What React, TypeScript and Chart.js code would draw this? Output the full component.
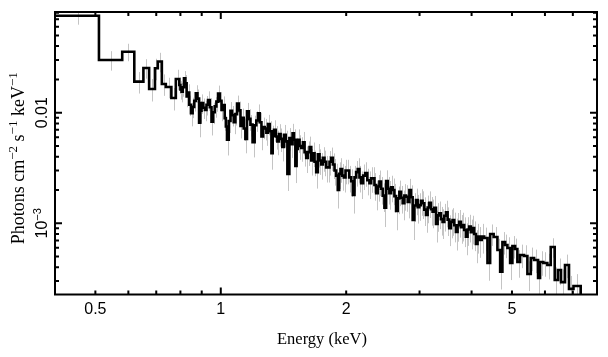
import React, { useEffect, useRef } from 'react';
import { Chart, registerables } from 'chart.js';

Chart.register(...registerables);

// Left edges of the spectral bins (keV)
const binLo = [
  0.4, 0.51, 0.58, 0.62, 0.652, 0.673, 0.695, 0.706, 0.722, 0.738, 0.761, 0.78,
  0.795, 0.800, 0.805, 0.8105, 0.816, 0.822, 0.828, 0.834, 0.840, 0.848,
  0.856, 0.8635, 0.871, 0.879, 0.887, 0.893, 0.899, 0.9075, 0.916, 0.924,
  0.932, 0.941, 0.950, 0.9585, 0.967, 0.976, 0.985, 0.9945, 1.004, 1.013,
  1.022, 1.0285, 1.035, 1.045, 1.055, 1.0645, 1.074, 1.084, 1.094, 1.1045,
  1.115, 1.125, 1.135, 1.1455, 1.156, 1.167, 1.178, 1.192, 1.206, 1.217,
  1.228, 1.240, 1.252, 1.2635, 1.275, 1.2865, 1.298, 1.3105, 1.323, 1.3325,
  1.342, 1.3545, 1.367, 1.3795, 1.392, 1.405, 1.418, 1.4315, 1.445,
  1.461, 1.474, 1.487, 1.4985, 1.510, 1.5205, 1.531, 1.5455, 1.560, 1.5745,
  1.589, 1.6035, 1.618, 1.6335, 1.649, 1.664, 1.679, 1.6945, 1.710, 1.726,
  1.742, 1.758, 1.774, 1.7905, 1.807, 1.824, 1.841, 1.858, 1.875, 1.892,
  1.909, 1.9235, 1.938, 1.956, 1.974, 1.9925, 2.011, 2.0335, 2.056, 2.075,
  2.094, 2.113, 2.132, 2.152, 2.172, 2.1965, 2.221, 2.2475, 2.274, 2.295,
  2.316, 2.338, 2.360, 2.3815, 2.403, 2.425, 2.447, 2.4705, 2.494, 2.5165,
  2.539, 2.5625, 2.586, 2.6105, 2.635, 2.659, 2.683, 2.708, 2.733, 2.7585,
  2.784, 2.810, 2.836, 2.862, 2.888, 2.915, 2.942, 2.969, 2.996, 3.0235,
  3.051, 3.080, 3.109, 3.1375, 3.166, 3.195, 3.224, 3.2545, 3.285, 3.3155,
  3.346, 3.3765, 3.407, 3.4395, 3.472, 3.5035, 3.535, 3.5675, 3.600, 3.634,
  3.668, 3.702, 3.736, 3.770, 3.804, 3.840, 3.876, 3.9115, 3.947, 3.9835,
  4.020, 4.058, 4.096, 4.1335, 4.171, 4.2295,
  4.288, 4.367, 4.432, 4.519, 4.614, 4.684, 4.743, 4.814, 4.876, 4.949,
  5.012, 5.087, 5.152, 5.230, 5.346, 5.445, 5.548, 5.650, 5.776, 5.840,
  5.947, 6.080, 6.195, 6.333, 6.449, 6.557, 6.703, 6.853, 7.025,
];
// Upper edge of the last plotted bin (keV)
const binHiLast = 7.31;
// Next bin value, below the plotted range (drawn as the drop at the end)
const offScaleNext = 1.5e-4;

// Photons cm^-2 s^-1 keV^-1 per bin
const flux = [
  0.0753, 0.0300, 0.0356, 0.0191, 0.0254, 0.0164, 0.0252, 0.0290, 0.0182, 0.0171, 0.0136, 0.0202,
  0.0178, 0.0162, 0.0155, 0.0170, 0.0205, 0.0184, 0.0140, 0.0152, 0.0118, 0.0099,
  0.0113, 0.0128, 0.0150, 0.0134, 0.0081, 0.0104, 0.0122, 0.0111, 0.0106, 0.0118,
  0.0130, 0.0112, 0.0083, 0.0101, 0.0114, 0.0126, 0.0149, 0.0128, 0.0106, 0.0117,
  0.0089, 0.0075, 0.0057, 0.0084, 0.0104, 0.0095, 0.0082, 0.0097, 0.0121, 0.0105,
  0.0076, 0.0090, 0.0072, 0.0058, 0.0103, 0.0088, 0.0078, 0.0054, 0.0077, 0.0085,
  0.0099, 0.0082, 0.0061, 0.0074, 0.0072, 0.0066, 0.0079, 0.0068, 0.0043, 0.0062,
  0.0070, 0.0061, 0.0055, 0.0064, 0.0058, 0.0049, 0.0063, 0.0055, 0.0028,
  0.0059, 0.0052, 0.0065, 0.0057, 0.0033, 0.0047, 0.0057, 0.0050, 0.0048, 0.0054,
  0.0044, 0.0039, 0.0044, 0.0049, 0.0037, 0.0043, 0.0036, 0.0029, 0.0042, 0.0037,
  0.0034, 0.0039, 0.0036, 0.0032, 0.0032, 0.0036, 0.0039, 0.0034, 0.0030, 0.0027,
  0.0020, 0.0028, 0.0031, 0.0027, 0.0026, 0.0030, 0.0030, 0.0026, 0.0024, 0.0018,
  0.0026, 0.0029, 0.0031, 0.0026, 0.0023, 0.0027, 0.00285, 0.00245, 0.0023, 0.00255,
  0.00255, 0.00222, 0.00187, 0.00215, 0.00238, 0.00205, 0.00178, 0.00138, 0.00241, 0.00205,
  0.00187, 0.00212, 0.00200, 0.00176, 0.00129, 0.00168, 0.00193, 0.00170, 0.00152, 0.00178,
  0.00174, 0.00156, 0.00200, 0.00172, 0.00107, 0.00145, 0.00162, 0.00140, 0.00146, 0.00160,
  0.00152, 0.00133, 0.00119, 0.00139, 0.00153, 0.00134, 0.00127, 0.00138, 0.000985, 0.00118,
  0.00123, 0.00109, 0.00103, 0.00117, 0.00126, 0.00108, 0.000901, 0.00103, 0.00107, 0.000960,
  0.000834, 0.000960, 0.00103, 0.000920, 0.000965, 0.000870, 0.000756, 0.000880, 0.000932, 0.000830,
  0.000907, 0.000800, 0.000650, 0.000760, 0.000706, 0.000760,
  0.000737, 0.000438, 0.000800, 0.000752, 0.000574, 0.000365, 0.000677, 0.000637, 0.000598, 0.000438,
  0.000623, 0.000586, 0.000447, 0.000517, 0.000506, 0.000348, 0.000486, 0.000466, 0.000320, 0.000447,
  0.000438, 0.000420, 0.000610, 0.000307, 0.000378, 0.000294, 0.000420, 0.000255, 0.000271,
];

// Fractional 1-sigma errors per bin
const errFrac = [
  0.17, 0.2, 0.18, 0.22, 0.2, 0.23, 0.22, 0.2, 0.22, 0.21, 0.23, 0.21,
  0.17, 0.19, 0.2, 0.18, 0.16, 0.19, 0.2, 0.19, 0.21, 0.24,
  0.21, 0.2, 0.18, 0.21, 0.26, 0.22, 0.2, 0.21, 0.21, 0.2,
  0.2, 0.21, 0.25, 0.22, 0.21, 0.19, 0.18, 0.2, 0.21, 0.2,
  0.23, 0.25, 0.28, 0.22, 0.2, 0.21, 0.22, 0.21, 0.18, 0.2,
  0.23, 0.21, 0.23, 0.26, 0.19, 0.22, 0.22, 0.27, 0.22, 0.21,
  0.2, 0.22, 0.25, 0.22, 0.22, 0.24, 0.21, 0.23, 0.29, 0.23,
  0.22, 0.24, 0.25, 0.23, 0.24, 0.26, 0.23, 0.25, 0.3,
  0.23, 0.25, 0.22, 0.24, 0.3, 0.26, 0.24, 0.25, 0.25, 0.24,
  0.26, 0.27, 0.25, 0.24, 0.27, 0.25, 0.26, 0.29, 0.24, 0.26,
  0.27, 0.25, 0.26, 0.27, 0.27, 0.25, 0.24, 0.26, 0.27, 0.28,
  0.32, 0.27, 0.25, 0.27, 0.27, 0.25, 0.25, 0.27, 0.28, 0.32,
  0.27, 0.26, 0.25, 0.27, 0.28, 0.26, 0.25, 0.27, 0.28, 0.26,
  0.26, 0.28, 0.3, 0.27, 0.26, 0.28, 0.29, 0.33, 0.25, 0.28,
  0.29, 0.27, 0.27, 0.29, 0.33, 0.28, 0.26, 0.28, 0.3, 0.27,
  0.27, 0.29, 0.26, 0.28, 0.34, 0.29, 0.27, 0.29, 0.28, 0.27,
  0.28, 0.29, 0.31, 0.28, 0.27, 0.29, 0.29, 0.28, 0.32, 0.29,
  0.28, 0.29, 0.3, 0.28, 0.27, 0.29, 0.31, 0.29, 0.28, 0.3,
  0.32, 0.29, 0.28, 0.29, 0.29, 0.3, 0.32, 0.29, 0.28, 0.3,
  0.29, 0.3, 0.33, 0.3, 0.31, 0.3,
  0.24, 0.31, 0.22, 0.23, 0.26, 0.31, 0.23, 0.24, 0.25, 0.3,
  0.23, 0.24, 0.28, 0.24, 0.25, 0.3, 0.24, 0.24, 0.3, 0.25,
  0.25, 0.26, 0.2, 0.3, 0.27, 0.3, 0.24, 0.31, 0.28,
];

// Axis ranges
const xMin = 0.4;
const xMax = 8;
const yMin = 2.27e-4;
const yMax = 0.0814;

// Tick marks and labels
const xMajorTicks = [1];
const xMinorTicks = [0.5, 0.6, 0.7, 0.8, 0.9, 2, 3, 4, 5, 6, 7];
const xLabelValues = [0.5, 1, 2, 5];
const xLabelTexts = ['0.5', '1', '2', '5'];
const yMajorTicks = [0.001, 0.01];
const yMinorTicks = [
  3e-4, 4e-4, 5e-4, 6e-4, 7e-4, 8e-4, 9e-4,
  0.002, 0.003, 0.004, 0.005, 0.006, 0.007, 0.008, 0.009,
  0.02, 0.03, 0.04, 0.05, 0.06, 0.07, 0.08,
];
const yLabelValues = [0.01, 0.001];
const yLabelMain = ['0.01', '10'];
const yLabelSup = ['', '\u22123'];

const xTitle = 'Energy (keV)';
const yTitleParts: { t: string; sup: boolean }[] = [
  { t: 'Photons cm', sup: false },
  { t: '\u22122', sup: true },
  { t: ' s', sup: false },
  { t: '\u22121', sup: true },
  { t: ' keV', sup: false },
  { t: '\u22121', sup: true },
];

const SANS = '"Liberation Sans", Arial, Helvetica, sans-serif';
const SERIF = '"Liberation Serif", "Times New Roman", serif';

type Seg = { t: string; sup: boolean };

function drawRotatedSegs(
  ctx: CanvasRenderingContext2D,
  cx: number,
  cy: number,
  segs: Seg[],
  mainFont: string,
  supFont: string,
  raise: number
) {
  ctx.save();
  ctx.translate(cx, cy);
  ctx.rotate(-Math.PI / 2);
  let total = 0;
  const widths = segs.map((s) => {
    ctx.font = s.sup ? supFont : mainFont;
    const w = ctx.measureText(s.t).width;
    total += w;
    return w;
  });
  let x = -total / 2;
  ctx.textBaseline = 'alphabetic';
  ctx.textAlign = 'left';
  ctx.fillStyle = '#000';
  segs.forEach((s, i) => {
    ctx.font = s.sup ? supFont : mainFont;
    ctx.fillText(s.t, x, s.sup ? -raise : 0);
    x += widths[i];
  });
  ctx.restore();
}

const whiteBg = {
  id: 'whiteBg',
  beforeDraw(chart: any) {
    const { ctx, width, height } = chart;
    ctx.save();
    ctx.fillStyle = '#fff';
    ctx.fillRect(0, 0, width, height);
    ctx.restore();
  },
};

const errorBars = {
  id: 'errorBars',
  beforeDatasetsDraw(chart: any) {
    const { ctx, chartArea: a, scales } = chart;
    const xs = scales.x;
    const ys = scales.y;
    ctx.save();
    ctx.beginPath();
    ctx.rect(a.left, a.top, a.right - a.left, a.bottom - a.top);
    ctx.clip();
    ctx.strokeStyle = '#c4c4c4';
    ctx.lineWidth = 1;
    ctx.beginPath();
    const n = Math.min(binLo.length, flux.length, errFrac.length);
    for (let i = 0; i < n; i++) {
      const lo = binLo[i];
      const hi = i + 1 < binLo.length ? binLo[i + 1] : binHiLast;
      const xc = (lo + hi) / 2;
      const f = flux[i];
      const e = f * errFrac[i];
      const px = Math.round(xs.getPixelForValue(xc)) + 0.5;
      ctx.moveTo(px, ys.getPixelForValue(f + e));
      ctx.lineTo(px, ys.getPixelForValue(Math.max(f - e, 1e-9)));
    }
    ctx.stroke();
    ctx.restore();
  },
};

const frameAndTicks = {
  id: 'frameAndTicks',
  afterDraw(chart: any) {
    const { ctx, chartArea: a, scales } = chart;
    const xs = scales.x;
    const ys = scales.y;
    ctx.save();
    ctx.strokeStyle = '#000';
    ctx.lineWidth = 2;
    ctx.strokeRect(a.left, a.top, a.right - a.left, a.bottom - a.top);

    ctx.beginPath();
    const tickX = (v: number, len: number) => {
      const px = xs.getPixelForValue(v);
      ctx.moveTo(px, a.bottom);
      ctx.lineTo(px, a.bottom - len);
      ctx.moveTo(px, a.top);
      ctx.lineTo(px, a.top + len);
    };
    const tickY = (v: number, len: number) => {
      const py = ys.getPixelForValue(v);
      ctx.moveTo(a.left, py);
      ctx.lineTo(a.left + len, py);
      ctx.moveTo(a.right, py);
      ctx.lineTo(a.right - len, py);
    };
    xMajorTicks.forEach((v) => tickX(v, 7));
    xMinorTicks.forEach((v) => tickX(v, 4));
    yMajorTicks.forEach((v) => tickY(v, 7));
    yMinorTicks.forEach((v) => tickY(v, 4));
    ctx.stroke();

    // x tick labels
    ctx.fillStyle = '#000';
    ctx.font = `16px ${SANS}`;
    ctx.textAlign = 'center';
    ctx.textBaseline = 'alphabetic';
    xLabelValues.forEach((v, i) => {
      ctx.fillText(xLabelTexts[i], xs.getPixelForValue(v), a.bottom + 19);
    });

    // y tick labels (rotated)
    yLabelValues.forEach((v, i) => {
      const segs: Seg[] = [{ t: yLabelMain[i], sup: false }];
      if (yLabelSup[i]) segs.push({ t: yLabelSup[i], sup: true });
      drawRotatedSegs(ctx, 46.5, ys.getPixelForValue(v), segs, `16px ${SANS}`, `11px ${SANS}`, 6);
    });

    // axis titles
    ctx.font = `16.5px ${SERIF}`;
    ctx.textAlign = 'center';
    ctx.textBaseline = 'alphabetic';
    ctx.fillText(xTitle, (a.left + a.right) / 2 - 4, a.bottom + 49);

    drawRotatedSegs(ctx, 23.5, (a.top + a.bottom) / 2 + 5, yTitleParts, `18px ${SERIF}`, `13px ${SERIF}`, 7);
    ctx.restore();
  },
};

export default function App() {
  const canvasRef = useRef<HTMLCanvasElement | null>(null);

  useEffect(() => {
    document.body.style.margin = '0';
    const canvas = canvasRef.current;
    if (!canvas) return;

    const pts = binLo.map((x, i) => ({ x, y: flux[i] }));
    pts.push({ x: binHiLast, y: flux[flux.length - 1] });
    pts.push({ x: binHiLast, y: offScaleNext });

    const chart = new Chart(canvas, {
      type: 'line',
      data: {
        datasets: [
          {
            data: pts,
            borderColor: '#000',
            borderWidth: 2.6,
            pointRadius: 0,
            stepped: true,
            fill: false,
            tension: 0,
            clip: 0,
          } as any,
        ],
      },
      options: {
        animation: false,
        responsive: false,
        devicePixelRatio: 1,
        events: [],
        layout: { padding: { left: 55, top: 12, right: 11, bottom: 62.5 } },
        plugins: {
          legend: { display: false },
          tooltip: { enabled: false },
        },
        scales: {
          x: { type: 'logarithmic', min: xMin, max: xMax, display: false },
          y: { type: 'logarithmic', min: yMin, max: yMax, display: false },
        },
      },
      plugins: [whiteBg, errorBars, frameAndTicks],
    });

    return () => chart.destroy();
  }, []);

  return (
    <div style={{ width: 608, height: 357 }}>
      <canvas ref={canvasRef} width={608} height={357} style={{ display: 'block' }} />
    </div>
  );
}
